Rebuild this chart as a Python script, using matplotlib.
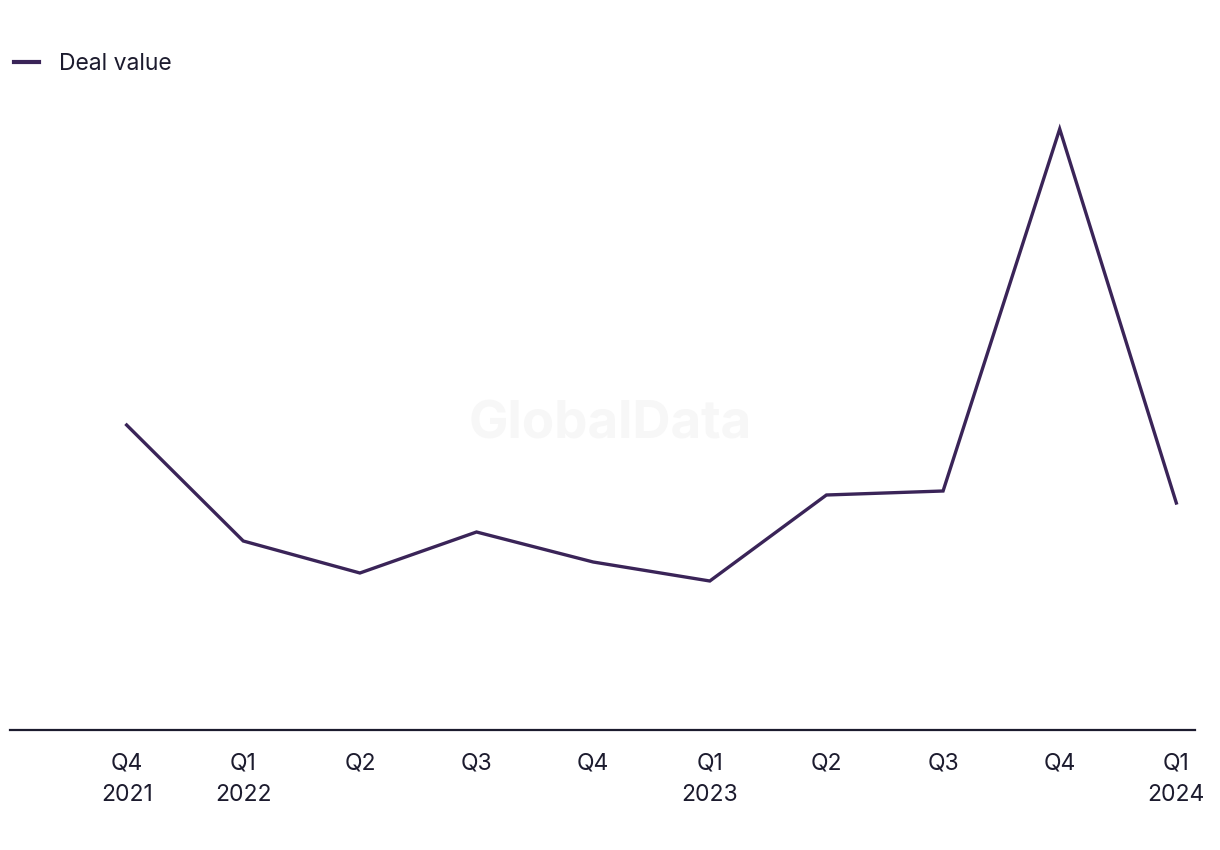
import matplotlib.pyplot as plt
from matplotlib.lines import Line2D

plt.rcParams['font.family'] = ['Inter', 'DejaVu Sans']

quarters = ["Q4\n2021", "Q1\n2022", "Q2", "Q3", "Q4", "Q1\n2023", "Q2", "Q3", "Q4", "Q1\n2024"]
deal_value = [305, 189, 157, 198, 168, 149, 235, 239, 601, 227]

line_col = "#3a2458"
text_col = "#1c1b2e"

fig = plt.figure(figsize=(12.2, 8.5), dpi=100)
ax = fig.add_axes([10 / 1220, 1 - 730 / 850, 1185 / 1220, 630 / 850])

x = list(range(len(quarters)))
ax.plot(x, deal_value, color=line_col, linewidth=2.4, solid_joinstyle="miter")

ax.set_xlim(-1.0, 9.16)
ax.set_ylim(0, 630)
ax.set_xticks(x)
ax.set_xticklabels(quarters, fontsize=16.5, color=text_col, linespacing=1.55)
ax.tick_params(axis="x", length=0, pad=16.5)
ax.set_yticks([])
for s in ["top", "right", "left"]:
    ax.spines[s].set_visible(False)
ax.spines["bottom"].set_color(text_col)
ax.spines["bottom"].set_linewidth(1.6)

# watermark
fig.text(610 / 1220, 1 - 425 / 850, "GlobalData", fontsize=38, fontweight="bold",
         color="#f7f7f7", ha="center", va="center", zorder=0)

# legend
fig.legend(handles=[Line2D([], [], color=line_col, linewidth=3)], labels=["Deal value"],
           loc="upper left", bbox_to_anchor=(0.002, 1 - 42 / 850), frameon=False,
           fontsize=16.5, labelcolor=text_col, handlelength=1.1, handletextpad=0.85,
           borderaxespad=0.1)

fig.savefig("out.png", dpi=100)
